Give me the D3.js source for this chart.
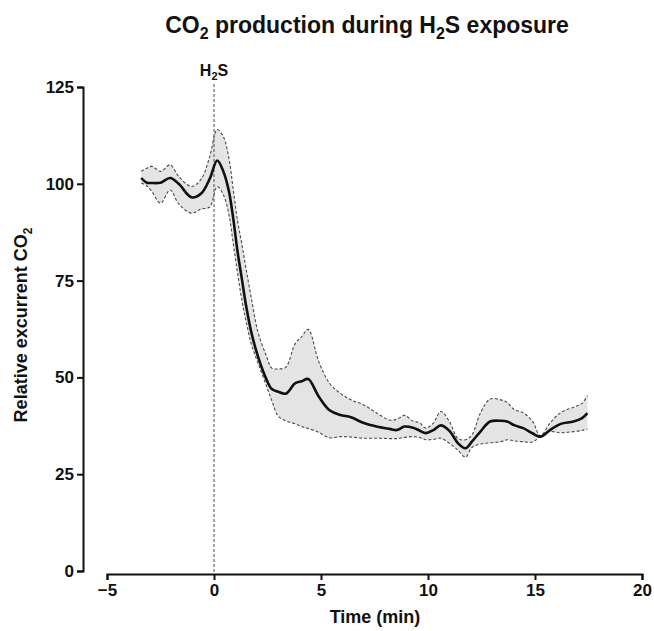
<!DOCTYPE html>
<html>
<head>
<meta charset="utf-8">
<script src="https://cdn.jsdelivr.net/npm/d3@7"></script>
<style>
  body { margin: 0; background: #fff; }
  text { font-family: "Liberation Sans", Arial, sans-serif; font-weight: bold; fill: #111; }
</style>
</head>
<body>
<svg id="chart" width="654" height="631"></svg>
<script>
const timeMin = [-3.4, -3.15, -2.9, -2.5, -2.05, -1.65, -1.05, -0.6, -0.2, 0.15, 0.45, 0.7, 0.9, 1.1, 1.3, 1.5, 1.75, 2.05, 2.45, 2.7, 3.0, 3.35, 3.8, 4.1, 4.4, 4.9, 5.4, 5.9, 6.4, 7.0, 7.6, 8.2, 8.55, 8.9, 9.3, 9.6, 9.9, 10.25, 10.6, 11.0, 11.4, 11.75, 12.05, 12.45, 12.9, 13.4, 13.7, 14.05, 14.45, 14.9, 15.25, 15.7, 16.2, 16.8, 17.2, 17.45];
const meanCO2 = [101.5, 100.3, 100.2, 100.3, 101.5, 100.0, 96.5, 97.5, 101.3, 106.0, 103.0, 98.0, 91.0, 82.5, 75.5, 68.5, 61.5, 55.5, 49.5, 47.0, 46.3, 45.8, 48.5, 49.0, 49.6, 45.0, 41.5, 40.3, 39.7, 38.2, 37.3, 36.7, 36.4, 37.3, 37.0, 36.3, 35.6, 36.4, 37.6, 36.2, 33.0, 31.7, 33.4, 36.0, 38.6, 38.8, 38.6, 37.6, 36.9, 35.5, 34.7, 36.4, 38.0, 38.6, 39.5, 40.8];
const upperCO2 = [103.2, 104.0, 104.5, 103.2, 104.9, 101.9, 99.3, 101.2, 107.0, 114.0, 112.0, 106.5, 98.5, 90.5, 84.5, 78.0, 70.3, 61.8, 55.5, 52.4, 52.2, 52.6, 58.8, 60.5, 62.4, 54.0, 48.5, 45.9, 44.2, 42.9, 40.8, 39.0, 39.2, 40.2, 38.7, 38.3, 36.9, 38.2, 41.2, 38.6, 34.2, 33.9, 35.1, 40.8, 44.4, 44.2, 43.5, 41.6, 40.9, 38.5, 34.9, 38.2, 40.9, 42.3, 43.3, 45.3];
const lowerCO2 = [100.2, 99.5, 98.0, 95.0, 98.4, 94.8, 92.4, 93.5, 94.0, 99.3, 97.0, 92.0, 84.5, 77.0, 70.0, 64.5, 58.5, 53.8, 47.8, 44.0, 40.0, 38.8, 38.0, 37.3, 36.8, 35.8, 34.4, 34.7, 34.6, 34.3, 34.3, 34.2, 34.2, 34.5, 34.7, 34.5, 33.9, 34.0, 34.3, 33.0, 31.2, 29.4, 31.9, 32.8, 33.1, 33.4, 33.9, 33.6, 33.4, 33.3, 34.9, 36.0, 35.7, 36.0, 36.3, 36.7];
const xTicks = [-5, 0, 5, 10, 15, 20];
const yTicks = [0, 25, 50, 75, 100, 125];

const svg = d3.select("#chart");
const x = d3.scaleLinear().domain([-5, 20]).range([107, 642]);
const y = d3.scaleLinear().domain([0, 125]).range([571, 87]);

const data = timeMin.map((t, i) => ({ t, m: meanCO2[i], u: upperCO2[i], l: lowerCO2[i] }));
const curve = d3.curveCatmullRom.alpha(0.5);

// band
svg.append("path").datum(data)
  .attr("d", d3.area().curve(curve).x(d => x(d.t)).y0(d => y(d.l)).y1(d => y(d.u)))
  .attr("fill", "#e4e4e4").attr("stroke", "none");

// band edges
["u", "l"].forEach(k => {
  svg.append("path").datum(data)
    .attr("d", d3.line().curve(curve).x(d => x(d.t)).y(d => y(d[k])))
    .attr("fill", "none").attr("stroke", "#4a4a4a").attr("stroke-width", 1.1)
    .attr("stroke-dasharray", "3,2");
});

// H2S marker line
svg.append("line")
  .attr("x1", x(0)).attr("x2", x(0)).attr("y1", 84).attr("y2", 574)
  .attr("stroke", "#4a4a4a").attr("stroke-width", 1).attr("stroke-dasharray", "3,2");

// mean line
svg.append("path").datum(data)
  .attr("d", d3.line().curve(curve).x(d => x(d.t)).y(d => y(d.m)))
  .attr("fill", "none").attr("stroke", "#111").attr("stroke-width", 2.6);

// axes
const yAxis = svg.append("g").attr("transform", "translate(83,0)")
  .call(d3.axisLeft(y).tickValues(yTicks).tickSize(6).tickPadding(3));
const xAxis = svg.append("g").attr("transform", "translate(0,574)")
  .call(d3.axisBottom(x).tickValues(xTicks).tickSize(6).tickPadding(4));
[yAxis, xAxis].forEach(g => {
  g.selectAll("path.domain").attr("stroke", "#111").attr("stroke-width", 2);
  g.selectAll(".tick line").attr("stroke", "#111").attr("stroke-width", 2);
  g.selectAll(".tick text").style("font-family", "'Liberation Sans', Arial, sans-serif")
    .style("font-weight", "bold").style("font-size", "17px").attr("fill", "#111");
});

// title
const title = svg.append("text").attr("x", 367).attr("y", 33).attr("text-anchor", "middle")
  .style("font-size", "23px");
title.append("tspan").text("CO");
title.append("tspan").text("2").attr("dy", 6).style("font-size", "16px");
title.append("tspan").text(" production during H").attr("dy", -6);
title.append("tspan").text("2").attr("dy", 6).style("font-size", "16px");
title.append("tspan").text("S exposure").attr("dy", -6);

// H2S label
const h = svg.append("text").attr("x", x(0)).attr("y", 76).attr("text-anchor", "middle")
  .style("font-size", "16px");
h.append("tspan").text("H");
h.append("tspan").text("2").attr("dy", 4).style("font-size", "11px");
h.append("tspan").text("S").attr("dy", -4);

// axis titles
svg.append("text").attr("x", 375).attr("y", 623).attr("text-anchor", "middle")
  .style("font-size", "18px").text("Time (min)");
const yl = svg.append("text").attr("transform", "translate(27,325) rotate(-90)")
  .attr("text-anchor", "middle").style("font-size", "18px");
yl.append("tspan").text("Relative excurrent CO");
yl.append("tspan").text("2").attr("dy", 5).style("font-size", "12px");
</script>
</body>
</html>
